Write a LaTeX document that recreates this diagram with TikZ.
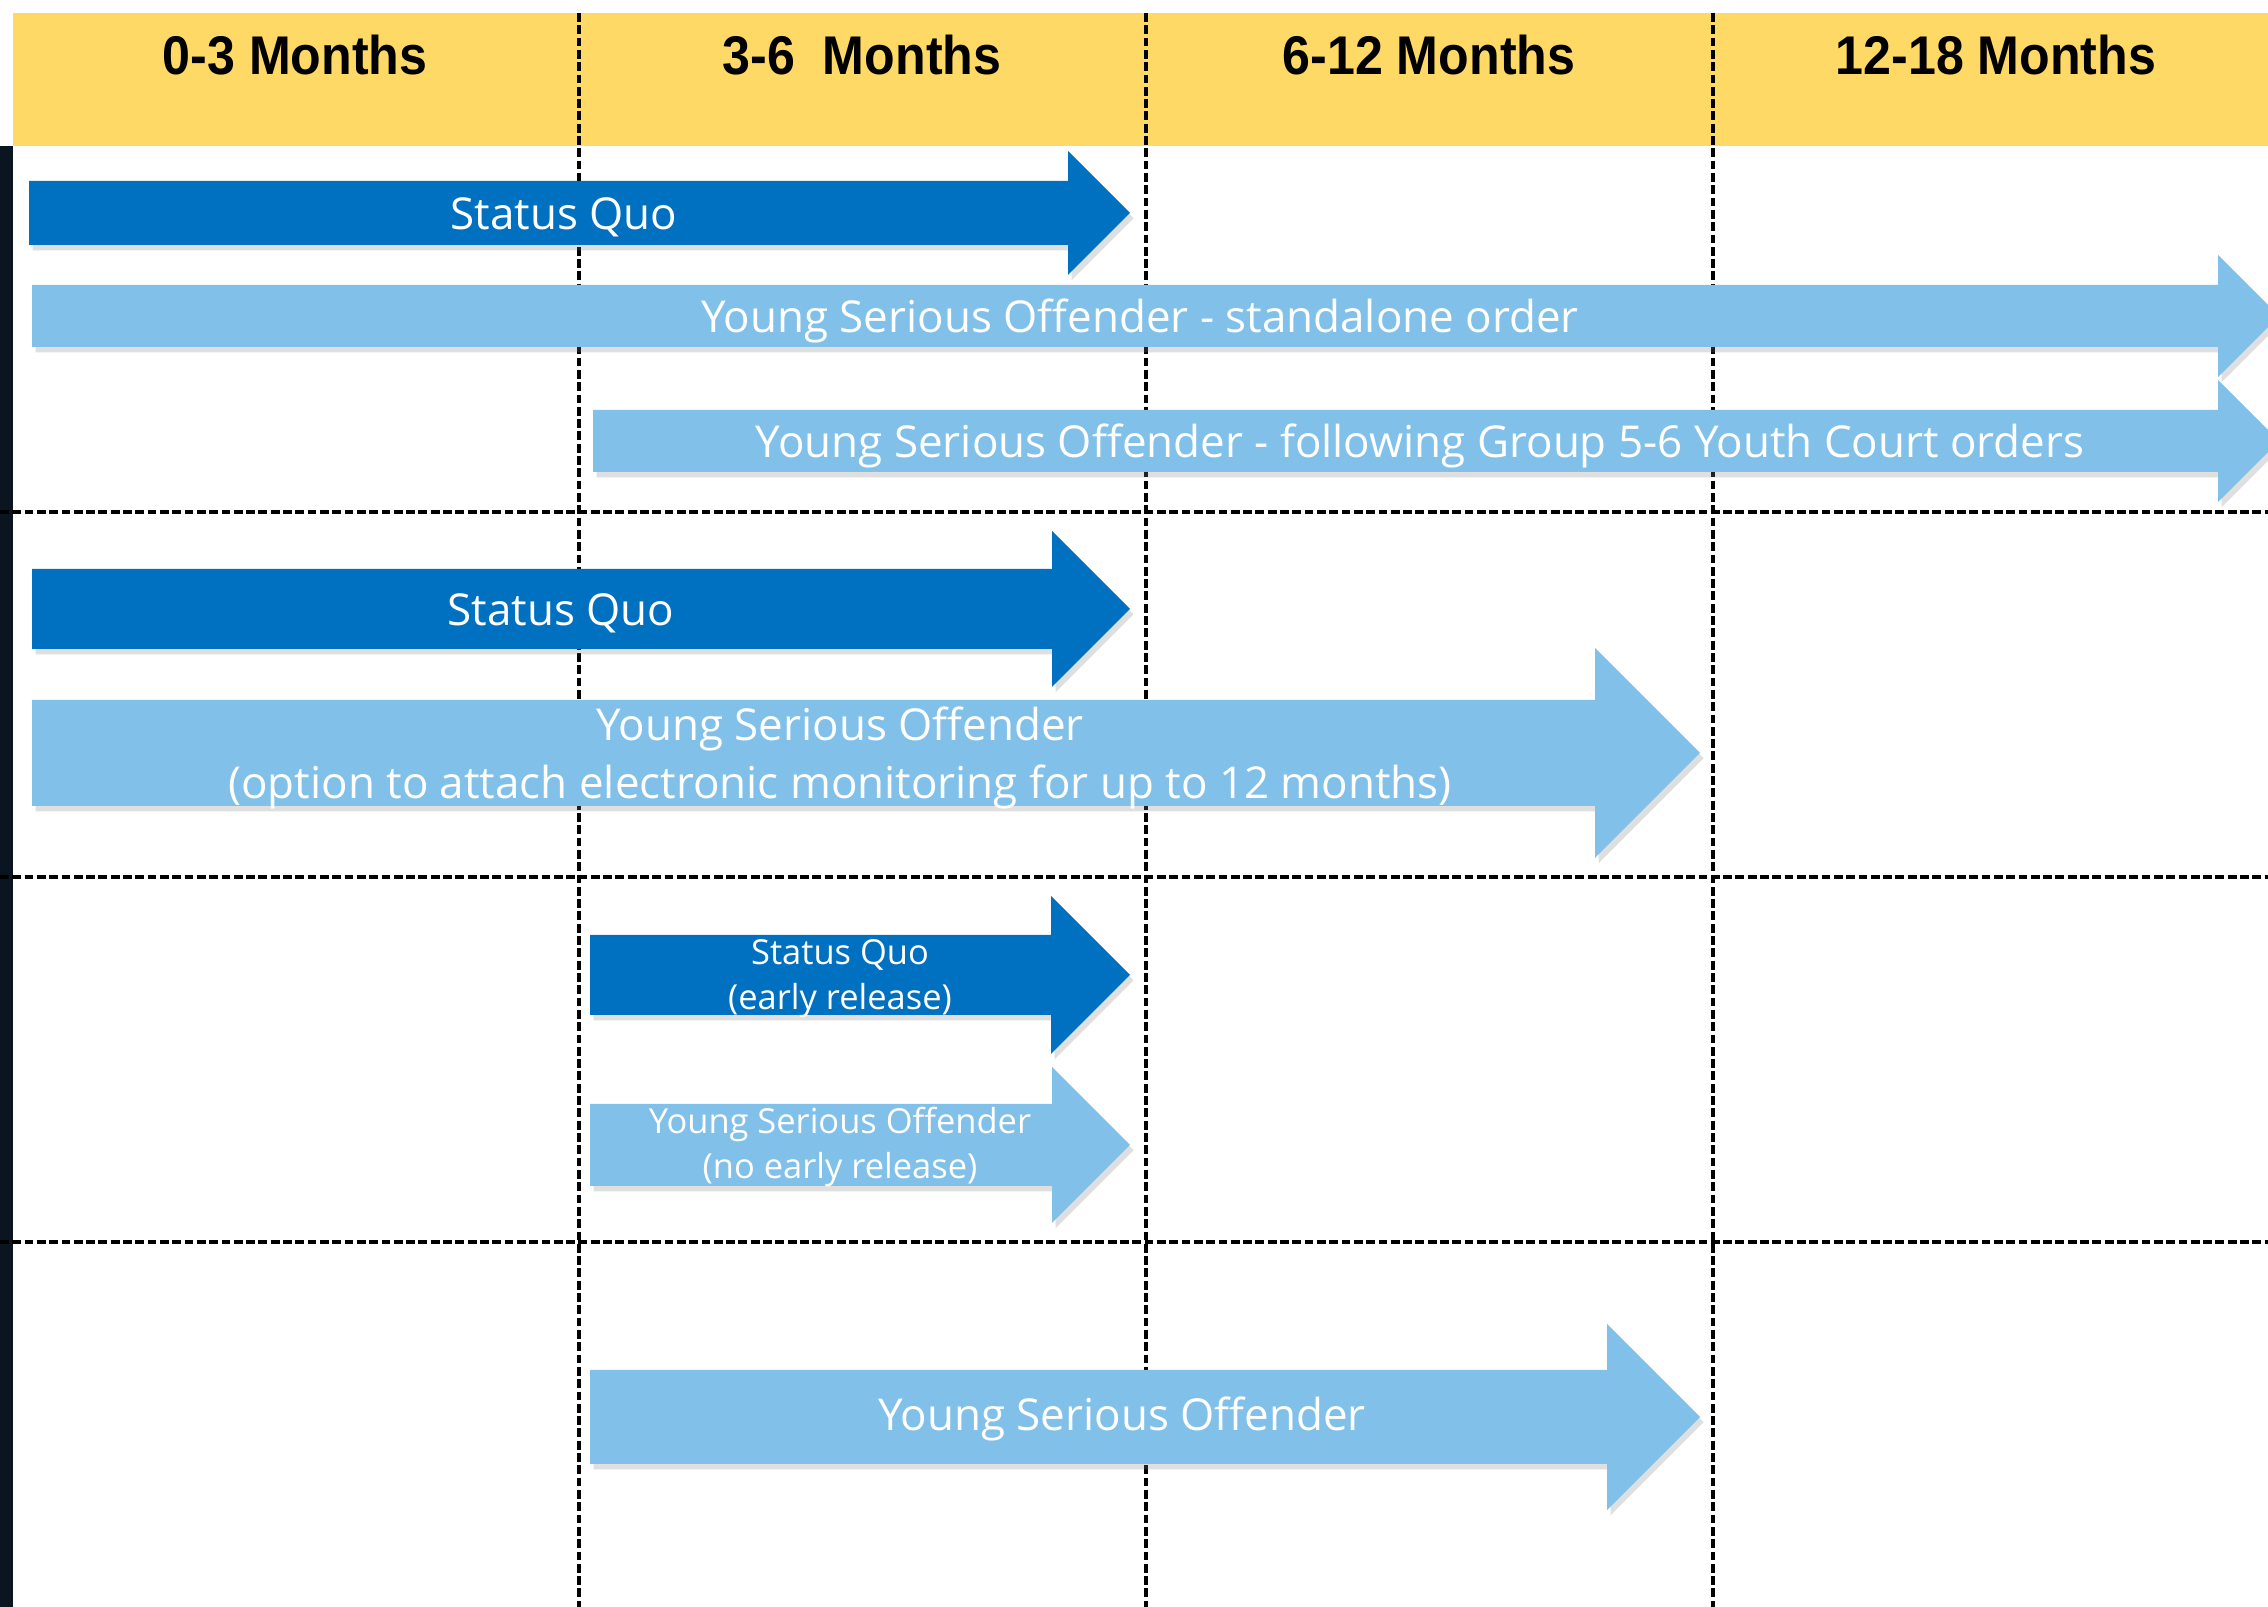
\documentclass[tikz,border=0pt]{standalone}
\usepackage{fontspec}
\setmainfont{Open Sans}
\newfontfamily\headfont{Liberation Sans}[FakeStretch=0.92]
\usetikzlibrary{shadows}
\definecolor{sqBlue}{RGB}{0,112,192}
\definecolor{ysoBlue}{RGB}{128,192,233}
\definecolor{headYellow}{RGB}{255,217,102}
\definecolor{barNavy}{RGB}{10,21,33}

% block arrow: style, left x, centre y, shaft half height, head half height, tip x
\newcommand{\blockarrow}[6]{%
  \path[#1] (#2,#3-#4) -- (#6-#5,#3-#4) -- (#6-#5,#3-#5) -- (#6,#3)
    -- (#6-#5,#3+#5) -- (#6-#5,#3+#4) -- (#2,#3+#4) -- cycle;}

\begin{document}
\begin{tikzpicture}[
        x=0.01cm, y=-0.01cm,
        sq/.style={fill=sqBlue, drop shadow={shadow xshift=1pt, shadow yshift=-1.5pt, opacity=0.25}},
        yso/.style={fill=ysoBlue, drop shadow={shadow xshift=1pt, shadow yshift=-1.5pt, opacity=0.25}},
        gridline/.style={black, line width=1pt, dash pattern=on 2.5pt off 1pt},
        colhead/.style={font=\headfont\bfseries\fontsize{15.5}{18}\selectfont},
        bartext/.style={text=white, align=center, inner sep=0pt, font=\fontsize{12.5}{16.5}\selectfont},
        smalltext/.style={bartext, font=\fontsize{9.8}{12.8}\selectfont}
    ]
        \useasboundingbox (0,0) rectangle (2268,1607);
        \clip (0,0) rectangle (2268,1607);
        \fill[white] (0,0) rectangle (2268,1607);

        % header and left bar
        \fill[headYellow] (13,13) rectangle (2268,146);
        \fill[barNavy] (0,146) rectangle (13,1607);
        \node[colhead] (h03) at (295,55) {0-3 Months};
        \node[colhead] (h36) at (862,55) {3-6\ \ Months};
        \node[colhead] (h612) at (1429,55) {6-12 Months};
        \node[colhead] (h1218) at (1996,55) {12-18 Months};

        \foreach \x in {579,1146,1713}
            \draw[gridline] (\x,13) -- (\x,1607);
        \foreach \y in {512,877,1242}
            \draw[gridline] (0,\y) -- (2268,\y);

        % first band
        \blockarrow{sq}{29}{213}{32}{62}{1130}
        \node[bartext] (sqa) at (564,217) {Status Quo};
        \blockarrow{yso}{32}{316}{31}{61}{2279}
        \node[bartext] (ysoa) at (1140,321) {Young Serious Offender - standalone order};
        \blockarrow{yso}{593}{441}{31}{61}{2279}
        \node[bartext] (ysob) at (1420,446) {Young Serious Offender - following Group 5-6 Youth Court orders};

        % second band
        \blockarrow{sq}{32}{609}{40}{78}{1130}
        \node[bartext] (sqb) at (561,613) {Status Quo};
        \blockarrow{yso}{32}{753}{53}{105}{1700}
        \node[bartext] (ysoc) at (840,758) {Young Serious Offender\\(option to attach electronic monitoring for up to 12 months)};

        % third band
        \blockarrow{sq}{590}{975}{40}{79}{1130}
        \node[smalltext] (sqc) at (840,979) {Status Quo\\(early release)};
        \blockarrow{yso}{590}{1145}{41}{78}{1130}
        \node[smalltext] (ysod) at (840,1147) {Young Serious Offender\\(no early release)};

        % fourth band
        \blockarrow{yso}{590}{1417}{47}{93}{1700}
        \node[bartext] (ysoe) at (1122,1419) {Young Serious Offender};
    \end{tikzpicture}
\end{document}
